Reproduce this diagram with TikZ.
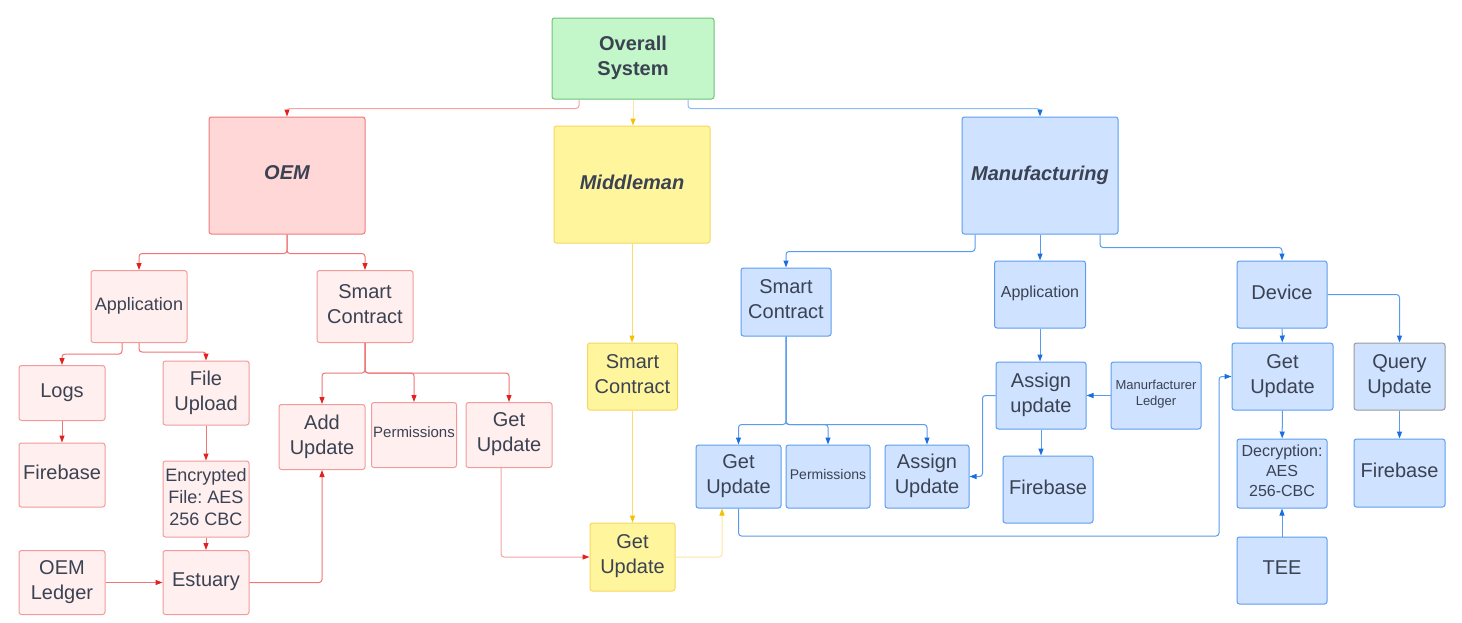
\documentclass[tikz,border=0pt]{standalone}
\usepackage{fontspec}
\setmainfont{Liberation Sans}
\usetikzlibrary{arrows.meta}
\frenchspacing

\definecolor{txt}{HTML}{3B4252}
\definecolor{topfill}{HTML}{C3F6C8}
\definecolor{topdraw}{HTML}{6CC476}
\definecolor{oemfill}{HTML}{FFD7D7}
\definecolor{oemdraw}{HTML}{F07A7A}
\definecolor{oemsubfill}{HTML}{FFEFEF}
\definecolor{oemsubdraw}{HTML}{F39A9A}
\definecolor{midfill}{HTML}{FFF59D}
\definecolor{middraw}{HTML}{F8D75E}
\definecolor{mfgfill}{HTML}{CFE2FF}
\definecolor{mfgdraw}{HTML}{5D9DF0}
\definecolor{greydraw}{HTML}{9A9A9A}
\definecolor{redline}{HTML}{F07575}
\definecolor{redlight}{HTML}{F6A3A3}
\definecolor{redtip}{HTML}{E4211F}
\definecolor{blueline}{HTML}{5A9BEE}
\definecolor{bluelight}{HTML}{8FBBF5}
\definecolor{bluetip}{HTML}{1A6FE0}
\definecolor{yelline}{HTML}{FFDC6A}
\definecolor{yellight}{HTML}{FFE6A0}
\definecolor{yeltip}{HTML}{F5C000}

\tikzset{
  box/.style={rectangle, rounded corners=2.5pt, line width=1pt, align=center,
    inner sep=0pt, text depth=5pt, text=txt, font=\fontsize{20}{25}\selectfont},
  sz/.style 2 args={minimum width=#1pt, minimum height=#2pt},
  topbox/.style={box, fill=topfill, draw=topdraw, font=\bfseries\fontsize{20}{25}\selectfont},
  oemhead/.style={box, fill=oemfill, draw=oemdraw, font=\bfseries\itshape\fontsize{20}{25}\selectfont},
  midhead/.style={box, fill=midfill, draw=middraw, font=\bfseries\itshape\fontsize{20}{25}\selectfont},
  mfghead/.style={box, fill=mfgfill, draw=mfgdraw, font=\bfseries\itshape\fontsize{20}{25}\selectfont},
  oembox/.style={box, fill=oemsubfill, draw=oemsubdraw},
  midbox/.style={box, fill=midfill, draw=middraw},
  mfgbox/.style={box, fill=mfgfill, draw=mfgdraw},
  fs/.style 2 args={font=\fontsize{#1}{#2}\selectfont},
  conn/.style={line width=1pt, rounded corners=3pt},
  redln/.style={conn, draw=redline, -{Triangle[length=7pt,width=5pt,color=redtip]}},
  redpale/.style={conn, draw=redlight, -{Triangle[length=7pt,width=5pt,color=redtip]}},
  blueln/.style={conn, draw=blueline, -{Triangle[length=7pt,width=5pt,color=bluetip]}},
  bluepale/.style={conn, draw=bluelight, -{Triangle[length=7pt,width=5pt,color=bluetip]}},
  yelln/.style={conn, draw=yelline, -{Triangle[length=7pt,width=5pt,color=yeltip]}},
  yelpale/.style={conn, draw=yellight, -{Triangle[length=7pt,width=5pt,color=yeltip]}},
}

\begin{document}
\begin{tikzpicture}[x=1pt, y=-1pt]
\useasboundingbox[fill=white] (0,0) rectangle (1462,622);

% ---- top level ----
\node[topbox, sz={162}{81}] (overall) at (633,58.5) {Overall\\System};
\node[oemhead, sz={156}{117}] (oem) at (287,175.5) {OEM};
\node[midhead, sz={156}{117}] (mid) at (632,184.5) {Middleman};
\node[mfghead, sz={156}{117}] (mfg) at (1040,175.5) {Manufacturing};

% ---- OEM branch ----
\node[oembox, sz={96}{72}, fs={18}{22}] (appO) at (139,306.5) {Application};
\node[oembox, sz={96}{72}] (scO) at (365,306.5) {Smart\\Contract};
\node[oembox, sz={86}{55}] (logs) at (62,393) {Logs};
\node[oembox, sz={86}{64}] (fileup) at (206,393) {File\\Upload};
\node[oembox, sz={86}{64}] (fbO) at (62,475) {Firebase};
\node[oembox, sz={86}{76}, fs={18}{22}] (enc) at (206,499) {Encrypted\\File: AES\\256 CBC};
\node[oembox, sz={86}{64}] (ledgerO) at (62,582.5) {OEM\\Ledger};
\node[oembox, sz={86}{64}] (estuary) at (206,582.5) {Estuary};
\node[oembox, sz={86}{65}] (addU) at (322,437) {Add\\Update};
\node[oembox, sz={85}{65}, fs={15}{18}] (permO) at (414,435) {Permissions};
\node[oembox, sz={86}{65}] (getO) at (509,435) {Get\\Update};

% ---- Middleman branch ----
\node[midbox, sz={90}{67}] (scM) at (632.5,376.5) {Smart\\Contract};
\node[midbox, sz={85}{68}] (getM) at (632.5,557) {Get\\Update};

% ---- Manufacturing branch ----
\node[mfgbox, sz={90}{68}] (scMf) at (786,302) {Smart\\Contract};
\node[mfgbox, sz={91}{67}, fs={16}{20}] (appMf) at (1040,294.5) {Application};
\node[mfgbox, sz={90}{67}] (device) at (1282,294.5) {Device};
\node[mfgbox, sz={85}{63}] (getMf) at (738.5,476.5) {Get\\Update};
\node[mfgbox, sz={84}{63}, fs={14}{17}] (permMf) at (828,476.5) {Permissions};
\node[mfgbox, sz={84}{63}] (assignU) at (927,476.5) {Assign\\Update};
\node[mfgbox, sz={90}{67}] (assignu) at (1041,395.5) {Assign\\update};
\node[mfgbox, sz={90}{67}, fs={13}{16}] (ledgerMf) at (1156,395.5) {Manurfacturer\\Ledger};
\node[mfgbox, sz={90}{67}] (fbMf) at (1048,489.5) {Firebase};
\node[mfgbox, sz={101}{67}] (getD) at (1282.5,376.5) {Get\\Update};
\node[box, fill=mfgfill, draw=greydraw, sz={91}{67}] (query) at (1399.5,376.5) {Query\\Update};
\node[mfgbox, sz={90}{69}, fs={16}{20}] (decr) at (1282,473.5) {Decryption:\\AES\\256-CBC};
\node[mfgbox, sz={91}{68}] (fbD) at (1399.5,473) {Firebase};
\node[mfgbox, sz={90}{67}] (tee) at (1282,570.5) {TEE};

\coordinate (loopturn) at (1219,536);

% ---- connectors from the top ----
\draw[redpale] ([xshift=-54pt]overall.south) -- ++(0,9) -| (oem.north);
\draw[yelpale] (overall.south) -- (overall.south |- mid.north);
\draw[bluepale] ([xshift=55pt]overall.south) -- ++(0,9) -| (mfg.north);

% ---- OEM connectors ----
\draw[redln] (oem.south) -- ++(0,19) -| (appO.north);
\draw[redln] (oem.south) -- ++(0,19) -| (scO.north);
\draw[redln] ([xshift=-17pt]appO.south) -- ++(0,11) -| (logs.north);
\draw[redln] (appO.south) -- ++(0,9) -| (fileup.north);
\draw[redln] (logs) -- (fbO);
\draw[redln] (fileup) -- (enc);
\draw[redln] (enc) -- (estuary);
\draw[redln] (ledgerO) -- (estuary);
\draw[redln] (estuary.east) -| (addU.south);
\draw[redln] (scO.south) -- ++(0,30) -| (addU.north);
\draw[redln] (scO.south) -- ++(0,30) -| (permO.north);
\draw[redln] (scO.south) -- ++(0,30) -| (getO.north);
\draw[redpale] ([xshift=-8pt]getO.south) |- (getM.west);

% ---- Middleman connectors ----
\draw[yelln] (mid.south) -- (mid.south |- scM.north);
\draw[yelln] (scM) -- (getM);
\draw[yelpale] (getM.east) -| ([xshift=-16.5pt]getMf.south);

% ---- Manufacturing connectors ----
\draw[blueln] ([xshift=-65pt]mfg.south) -- ++(0,17) -| (scMf.north);
\draw[blueln] (mfg.south) -- (mfg.south |- appMf.north);
\draw[blueln] ([xshift=60pt]mfg.south) -- ++(0,13) -| (device.north);
\draw[blueln] (scMf.south) -- ++(0,88) -| (getMf.north);
\draw[blueln] (scMf.south) -- ++(0,88) -| (permMf.north);
\draw[blueln] (scMf.south) -- ++(0,88) -| (assignU.north);
\draw[blueln] (appMf.south) -- (appMf.south |- assignu.north);
\draw[blueln] (ledgerMf) -- (assignu);
\draw[blueln] (assignu.west) -- ++(-13,0) |- (assignU.east);
\draw[blueln] (assignu.south) -- (assignu.south |- fbMf.north);
\draw[blueln] (getMf.south) |- (loopturn) |- (getD.west);
\draw[blueln] (device) -- (getD);
\draw[blueln] (device.east) -| (query.north);
\draw[blueln] (getD) -- (decr);
\draw[blueln] (query) -- (fbD);
\draw[blueln] (tee) -- (decr);
\end{tikzpicture}
\end{document}
